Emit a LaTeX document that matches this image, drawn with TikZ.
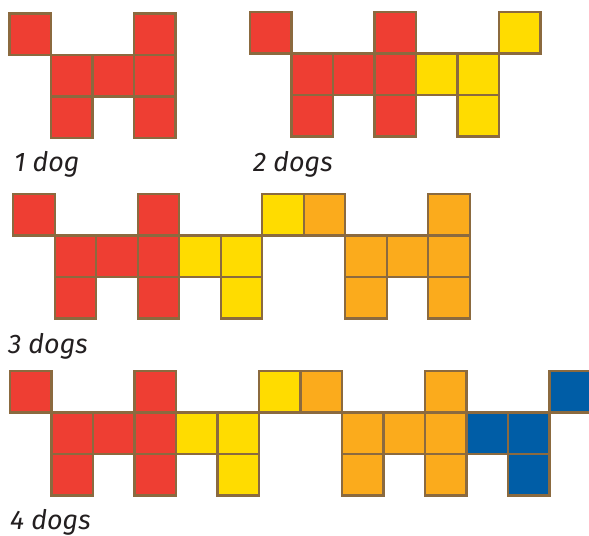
\documentclass[tikz,border=0pt]{standalone}
\usepackage{fontspec}
\setmainfont{Fira Sans}
\definecolor{dred}{HTML}{EE3E33}
\definecolor{dyellow}{HTML}{FFDC00}
\definecolor{dorange}{HTML}{FBAB1C}
\definecolor{dblue}{HTML}{005DA6}
\definecolor{edge}{HTML}{8B6A3F}
\definecolor{ink}{HTML}{231F20}
\tikzset{
  sq/.style={draw=edge, line width=2.2bp},
  lbl/.style={inner sep=0pt, anchor=base west, text=ink, font=\fontsize{27}{31}\selectfont\itshape}
}
\newcommand\dsq[5]{\draw[sq, fill=#5] ({#1+#3*41.5},{#2+#4*41.5}) rectangle ++(41.5,41.5);}
% a dog: x0 y0 first-col color  (shape: top-left, body, legs, head column)
\newcommand\reddog[2]{%
  \dsq{#1}{#2}{0}{0}{dred}\dsq{#1}{#2}{1}{1}{dred}\dsq{#1}{#2}{1}{2}{dred}%
  \dsq{#1}{#2}{2}{1}{dred}\dsq{#1}{#2}{3}{0}{dred}\dsq{#1}{#2}{3}{1}{dred}\dsq{#1}{#2}{3}{2}{dred}}
\newcommand\yellowdog[2]{%
  \dsq{#1}{#2}{4}{1}{dyellow}\dsq{#1}{#2}{5}{1}{dyellow}\dsq{#1}{#2}{5}{2}{dyellow}\dsq{#1}{#2}{6}{0}{dyellow}}
\newcommand\orangedog[2]{%
  \dsq{#1}{#2}{7}{0}{dorange}\dsq{#1}{#2}{8}{1}{dorange}\dsq{#1}{#2}{8}{2}{dorange}%
  \dsq{#1}{#2}{9}{1}{dorange}\dsq{#1}{#2}{10}{0}{dorange}\dsq{#1}{#2}{10}{1}{dorange}\dsq{#1}{#2}{10}{2}{dorange}}
\newcommand\bluedog[2]{%
  \dsq{#1}{#2}{11}{1}{dblue}\dsq{#1}{#2}{12}{1}{dblue}\dsq{#1}{#2}{12}{2}{dblue}\dsq{#1}{#2}{13}{0}{dblue}}
\begin{document}
\begin{tikzpicture}[x=1bp,y=-1bp]
\useasboundingbox (0,0) rectangle (589,536);
\clip (0,0) rectangle (589,536);
% 1 dog
\reddog{9.5}{13.5}
% 2 dogs
\reddog{250}{12}
\yellowdog{250}{12}
% 3 dogs
\reddog{13.3}{194}
\yellowdog{13.3}{194}
\orangedog{13.3}{194}
% 4 dogs
\reddog{10}{371}
\yellowdog{10}{371}
\orangedog{10}{371}
\bluedog{10}{371}
% labels
\node[lbl] (l1) at (14,171.7) {1 dog};
\node[lbl] (l2) at (253,171.7) {2 dogs};
\node[lbl] (l3) at (8,353) {3 dogs};
\node[lbl] (l4) at (10,529.3) {4 dogs};
\end{tikzpicture}
\end{document}
